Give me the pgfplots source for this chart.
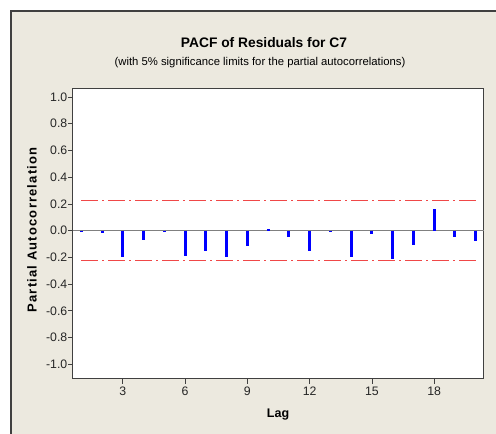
\documentclass[border=0pt]{standalone}
\usepackage{fontspec}
\setmainfont{Liberation Sans}
\usepackage{pgfplots}
\pgfplotsset{compat=1.18}
\definecolor{panel}{HTML}{ECE9DF}
\definecolor{framegray}{HTML}{404040}
\definecolor{zerogray}{HTML}{808080}
\definecolor{limred}{HTML}{F04848}

\pgfplotstableread{
lag pacf
1  -0.012
2  -0.018
3  -0.195
4  -0.068
5  -0.012
6  -0.188
7  -0.149
8  -0.198
9  -0.115
10  0.015
11 -0.049
12 -0.149
13 -0.007
14 -0.198
15 -0.024
16 -0.215
17 -0.107
18  0.161
19 -0.049
20 -0.076
}\pacfdata

\begin{document}
\begin{tikzpicture}[x=1pt,y=1pt]
\useasboundingbox (-73,-55) rectangle (423,379);
% panel behind the graph
\fill[panel] (-62,-55) rectangle (423,368);
\draw[framegray, line width=1.3pt] (-62,-55) -- (-62,368) -- (423,368);

\begin{axis}[
  at={(0,0)}, anchor=south west,
  scale only axis, width=411pt, height=290pt,
  xmin=0.6, xmax=20.4,
  ymin=-1.11, ymax=1.06,
  axis background/.style={fill=white},
  axis line style={framegray, line width=1pt},
  tick pos=left, tick align=outside, major tick length=4.5pt,
  tick style={framegray, line width=0.8pt},
  xtick={3,6,9,12,15,18},
  xticklabels={3,6,9,12,15,18},
  ytick={-1,-0.8,-0.6,-0.4,-0.2,0,0.2,0.4,0.6,0.8,1},
  yticklabels={-1.0,-0.8,-0.6,-0.4,-0.2,0.0,0.2,0.4,0.6,0.8,1.0},
  ticklabel style={font=\fontsize{12.3}{14}\selectfont, text=black!85},
  yticklabel style={inner sep=1pt},
  xlabel={Lag},
  ylabel={Partial Autocorrelation},
  xlabel style={font=\fontsize{12.5}{15}\selectfont\bfseries,
    at={(axis description cs:0.499,-0.124)}, anchor=center},
  ylabel style={font=\fontsize{13}{15}\selectfont\bfseries\addfontfeatures{LetterSpace=9},
    at={(axis description cs:-0.0998,0.514)}, anchor=center},
  clip=false,
]
\addplot[zerogray, line width=1.2pt] coordinates {(0.6,0) (20.4,0)};
\addplot[limred, line width=1.5pt, dash pattern=on 17pt off 4pt on 2pt off 4pt]
  coordinates {(1,0.225) (20,0.225)};
\addplot[limred, line width=1.5pt, dash pattern=on 17pt off 4pt on 2pt off 4pt]
  coordinates {(1,-0.225) (20,-0.225)};
\addplot[ycomb, blue, line width=3pt, no marks] table[x=lag, y=pacf] {\pacfdata};
\end{axis}

\node[font=\fontsize{13.8}{16}\selectfont\bfseries] at (191,336.5) {PACF of Residuals for C7};
\node[font=\fontsize{11.3}{13}\selectfont] at (187,316) {(with 5\% significance limits for the partial autocorrelations)};
\end{tikzpicture}
\end{document}
